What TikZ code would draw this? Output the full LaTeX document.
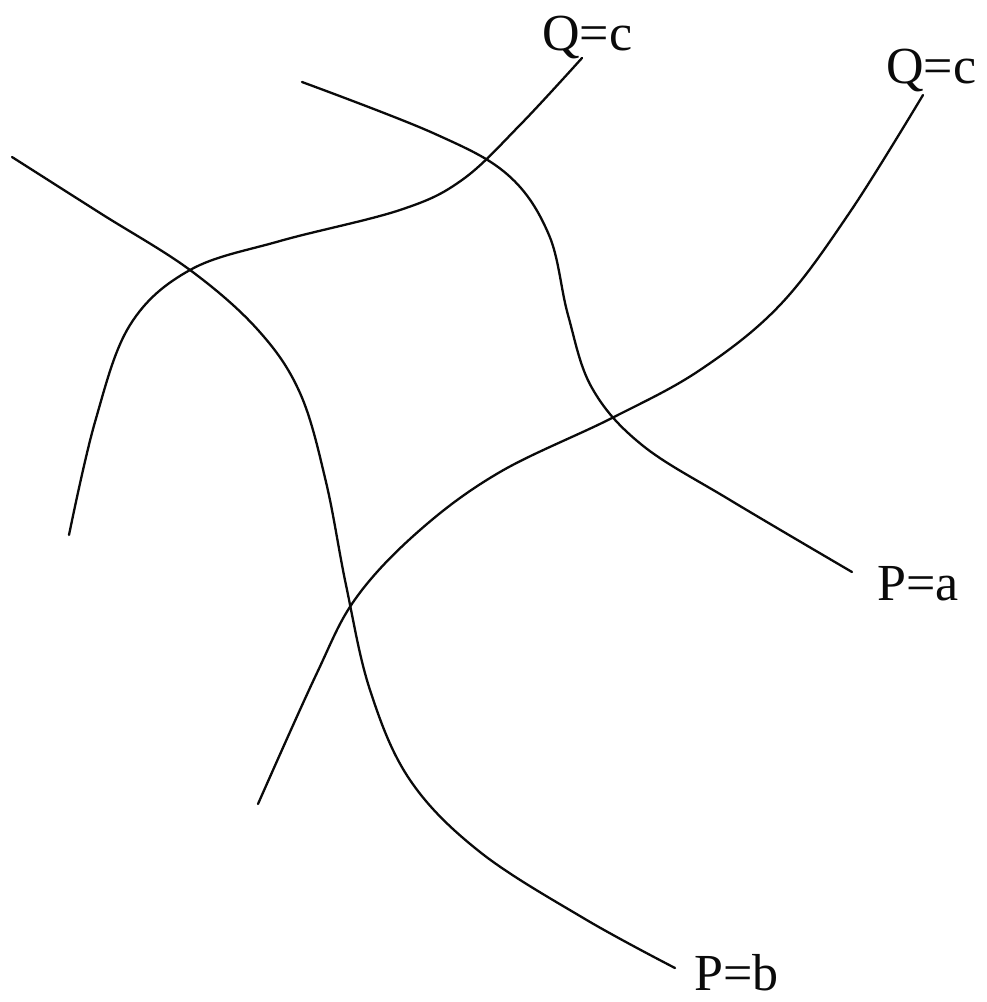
\documentclass[tikz,border=0pt]{standalone}
\usepackage{fontspec}
\setmainfont{Liberation Serif}
\usepackage{tikz}
\usetikzlibrary{calc, positioning}
\definecolor{ink}{RGB}{10,10,10}
\tikzset{
  curve/.style={ink, line width=2.3pt, line cap=round, smooth, tension=0.6},
  lbl/.style={ink, inner sep=0pt, anchor=base west, font=\fontsize{52}{60}\selectfont}
}

\begin{document}
\begin{tikzpicture}[x=1pt, y=-1pt]
  \useasboundingbox (0,0) rectangle (986,1002);

  % ---------- labels ----------
  \node[lbl] (qcl) at (542,50)  {Q=c};
  \node[lbl] (qcr) at (886,83)  {Q=c};
  \node[lbl] (pa)  at (877,600) {P=a};
  \node[lbl] (pb)  at (694,990) {P=b};

  % ---------- free ends ----------
  \coordinate (a0) at (302,82);   \coordinate (a1) at (852,572);
  \coordinate (b0) at (12,157);   \coordinate (b1) at (675,968);
  \coordinate (c0) at (69,535);   \coordinate (c1) at (582,58);
  \coordinate (d0) at (258,804);  \coordinate (d1) at (923,95);

  % ===== P=a =====
  \draw[curve] plot coordinates {(a0) (433,133) (508,175) (549,235)
    (568,315) (592,388) (642,445) (730,500) (a1)};

  % ===== P=b =====
  \draw[curve] plot coordinates {(b0) (100,213) (190,270) (258,330)
    (300,393) (326,482) (346,585) (370,690) (410,780) (480,852) (585,919) (b1)};

  % ===== Q=c (left) =====
  \draw[curve] plot coordinates {(c0) (95,422) (130,325) (190,270)
    (280,241) (400,210) (462,180) (520,125) (c1)};

  % ===== Q=c (right) =====
  \draw[curve] plot coordinates {(d0) (316,675) (356,598) (420,530)
    (500,472) (612,418) (700,370) (780,305) (850,212) (d1)};

\end{tikzpicture}
\end{document}
